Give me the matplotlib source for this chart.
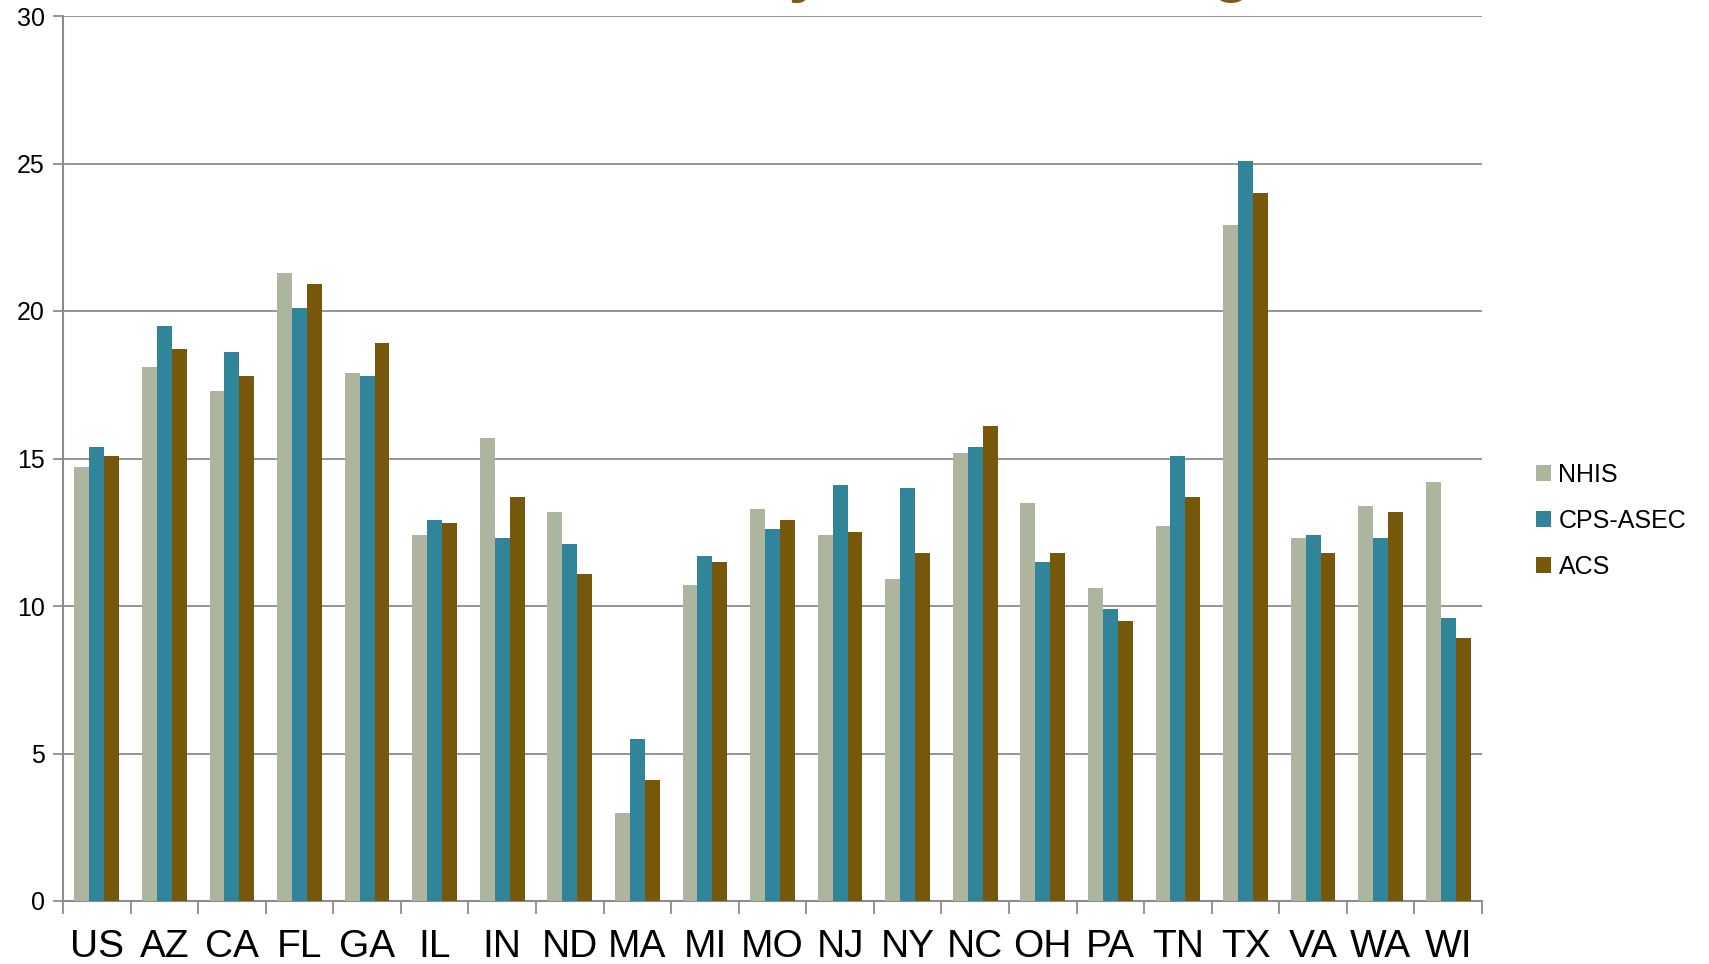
import matplotlib
matplotlib.use("Agg")
import matplotlib.pyplot as plt
import numpy as np
from matplotlib import font_manager

states = ["US", "AZ", "CA", "FL", "GA", "IL", "IN", "ND", "MA", "MI", "MO",
          "NJ", "NY", "NC", "OH", "PA", "TN", "TX", "VA", "WA", "WI"]
nhis = [14.7, 18.1, 17.3, 21.3, 17.9, 12.4, 15.7, 13.2, 3.0, 10.7, 13.3,
        12.4, 10.9, 15.2, 13.5, 10.6, 12.7, 22.9, 12.3, 13.4, 14.2]
cps_asec = [15.4, 19.5, 18.6, 20.1, 17.8, 12.9, 12.3, 12.1, 5.5, 11.7, 12.6,
            14.1, 14.0, 15.4, 11.5, 9.9, 15.1, 25.1, 12.4, 12.3, 9.6]
acs = [15.1, 18.7, 17.8, 20.9, 18.9, 12.8, 13.7, 11.1, 4.1, 11.5, 12.9,
       12.5, 11.8, 16.1, 11.8, 9.5, 13.7, 24.0, 11.8, 13.2, 8.9]
series_names = ["NHIS", "CPS-ASEC", "ACS"]
yticks = [0, 5, 10, 15, 20, 25, 30]
title = "Uninsured Rates by State, Among Adults 18-64"

colors = ["#adb59f", "#31859b", "#77570a"]

avail = {f.name for f in font_manager.fontManager.ttflist}
base_font = "Liberation Sans" if "Liberation Sans" in avail else "DejaVu Sans"
plt.rcParams['font.family'] = [base_font, 'DejaVu Sans']

W, H = 1709, 964
fig = plt.figure(figsize=(W / 100, H / 100), dpi=100)
ax = fig.add_axes([63 / W, 63 / H, (1482 - 63) / W, (948 - 63) / H])

x = np.arange(len(states))
w = 0.22
for i, (vals, name) in enumerate(zip([nhis, cps_asec, acs], series_names)):
    ax.bar(x + (i - 1) * w, vals, width=w, color=colors[i], label=name, zorder=3)

ax.set_xlim(-0.5, len(states) - 0.5)
ax.set_ylim(0, 30)
ax.set_yticks(yticks)
ax.set_yticklabels([str(t) for t in yticks], fontsize=18)
ax.grid(axis='y', color='#8c8c8c', linewidth=1.3, zorder=0)
ax.set_axisbelow(True)

ax.set_xticks(np.arange(-0.5, len(states), 1.0))
ax.set_xticklabels([])
ax.set_xticks(x, minor=True)
ax.set_xticklabels(states, minor=True, fontsize=28)
ax.tick_params(axis='x', which='major', length=9, width=1.3, color='#8c8c8c', direction='out')
ax.tick_params(axis='x', which='minor', length=0, pad=20)
ax.tick_params(axis='y', length=7, width=1.3, color='#8c8c8c', pad=6)

for s in ['top', 'right']:
    ax.spines[s].set_visible(False)
for s in ['left', 'bottom']:
    ax.spines[s].set_color('#8c8c8c')
    ax.spines[s].set_linewidth(1.5)

fig.legend(*ax.get_legend_handles_labels(), loc='center left',
           bbox_to_anchor=(1536 / W, 1 - 521 / H), frameon=False,
           fontsize=18, handlelength=0.6, handleheight=0.6, handletextpad=0.3,
           labelspacing=0.88, borderpad=0, borderaxespad=0)

# Title: only its descenders show at the top edge, as in the reference.
tsize = 46
t = fig.text(0, 0, title, ha='left', va='baseline', fontsize=tsize,
             fontweight='bold', color='#7a5a14')
r = fig.canvas.get_renderer()
fp = t.get_fontproperties()
def width(s):
    return r.get_text_width_height_descent(s, fp, ismath=False)[0]
prefix = title[:title.index("by") + 1]
y_center = width(prefix) + width("y") / 2
target = 806  # pixel x of the "y" descender in the reference
t.set_position(((target - y_center) / W, 1 + 10 / H))

fig.savefig("out.png", dpi=100)
